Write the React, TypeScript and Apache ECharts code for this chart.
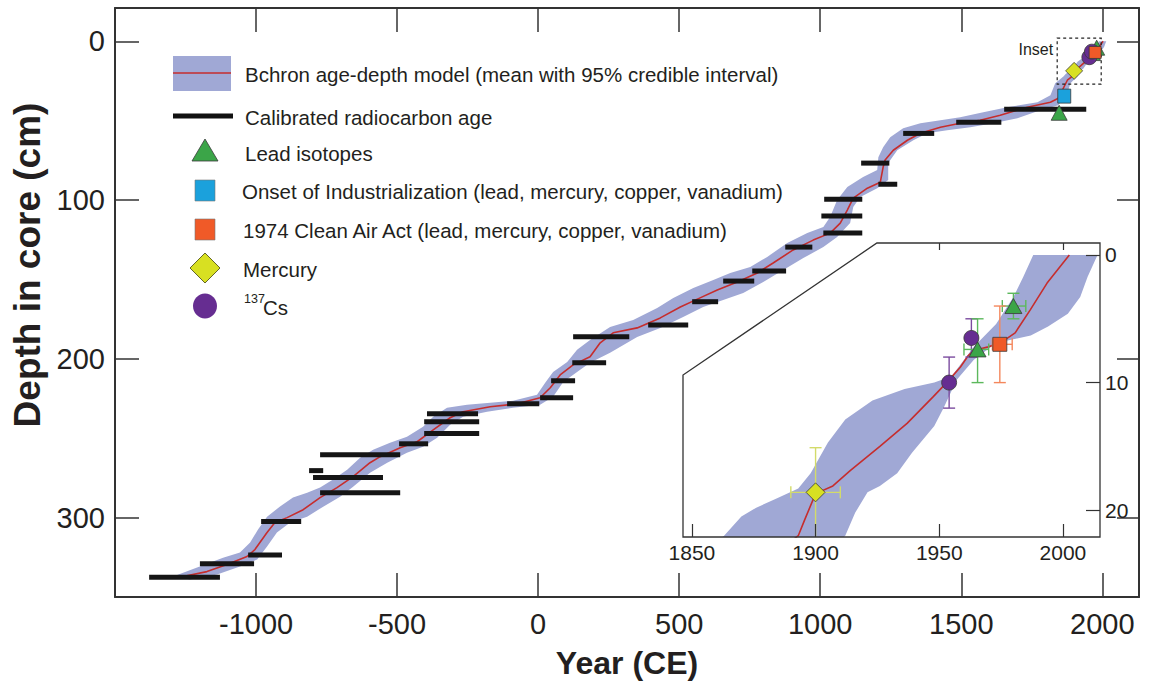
import React, { useEffect, useRef } from "react";
import * as echarts from "echarts";

const FONT = "'Liberation Sans', Arial, Helvetica, sans-serif";
const INK = "#231f20";
const BAND = "#a0a8d5";
const RED = "#c62d2d";

// ---------- axes ----------
const xTickValues = [-1000, -500, 0, 500, 1000, 1500, 2000];
const yTickValues = [0, 100, 200, 300];
const insetXTicks = [1850, 1900, 1950, 2000];
const insetXTopTicks = [1950, 2000];
const insetYTicks = [0, 10, 20];

// ---------- Bchron mean line [year CE, depth cm] ----------
const meanLine: number[][] = [
  [-1259, 337.1], [-1174, 334], [-1103, 329.6], [-1032, 324.5], [-1004, 320.1], [-961, 309.4],
  [-933, 303.1], [-890, 300], [-833, 295], [-773, 287.4], [-713, 281.1], [-656, 274.2],
  [-596, 265.4], [-560, 261.6], [-489, 256], [-429, 252.2], [-372, 244.7], [-312, 237.1],
  [-266, 233.3], [-170, 230.2], [-74, 228.3], [7, 224.5], [43, 218.2], [78, 210.1],
  [124, 203.8], [184, 198.7], [220, 189.9], [266, 183.6], [351, 180.5], [433, 174.2],
  [504, 167.3], [574, 161.6], [635, 156.6], [706, 151.6], [777, 145.9], [833, 139.6],
  [904, 131.4], [975, 125.2], [1035, 120.8], [1071, 114.5], [1096, 106.3], [1117, 98.7],
  [1167, 92.5], [1213, 88.7], [1223, 79.2], [1230, 74.8], [1259, 68.6], [1309, 62.3],
  [1355, 57.9], [1426, 54.1], [1496, 51.6], [1567, 49.7], [1638, 46.5], [1734, 41.5],
  [1816, 38.4], [1844, 35.8], [1876, 24.5], [1893, 22], [1895.5, 20.8], [1900, 18.7],
  [1907, 18.1], [1914, 16.9], [1926, 15], [1937, 13.2], [1947.6, 11.1], [1953, 10],
  [1958.5, 8.8], [1961.7, 7.9], [1963.7, 7.5], [1969.8, 7.2], [1974.6, 6.9], [1980.7, 6.1],
  [1986.8, 4.3], [1993.6, 2.2], [2002.6, 0],
];

// ---------- 95% credible interval edges ----------
const bandOlderEdge: number[][] = [
  [-1294, 337.1], [-1209, 331.4], [-1117, 325.2], [-1057, 322], [-1021, 315.7], [-993, 307.5],
  [-961, 299.4], [-915, 293], [-869, 287.4], [-819, 284.3], [-773, 281.1], [-727, 276],
  [-677, 269.8], [-631, 262.3], [-585, 257.2], [-525, 252.8], [-465, 249], [-408, 242.8],
  [-372, 236.5], [-323, 230.8], [-252, 228.9], [-170, 227.7], [-89, 226.4], [-4, 222.6],
  [25, 215.1], [53, 208.2], [103, 201.9], [138, 194.3], [184, 188.1], [255, 179.9],
  [337, 175.5], [422, 167.9], [479, 161.6], [550, 155.3], [621, 150.3], [681, 145.9],
  [752, 142.1], [812, 135.8], [883, 127], [954, 120.8], [1011, 117], [1035, 110.7],
  [1060, 100], [1096, 91.8], [1152, 85.5], [1202, 81.1], [1206, 73], [1223, 66.7],
  [1248, 60.4], [1294, 54.7], [1355, 51.6], [1426, 49.7], [1496, 47.8], [1578, 44.7],
  [1663, 41.5], [1770, 38.4], [1816, 34], [1833, 26.4], [1863, 22], [1870, 20.5],
  [1876, 19.8], [1884, 19.1], [1893, 18.3], [1898, 17.1], [1905, 14.7], [1912, 12.9],
  [1923, 11.4], [1936, 10.5], [1948, 10], [1955, 9.5], [1964, 7.2], [1973, 5.4],
  [1980, 3.3], [1984, 1.7], [1988, 0],
];
const bandYoungerEdge: number[][] = [
  [-1234, 339], [-1138, 335.8], [-1057, 330.8], [-996, 326.4], [-961, 318.2], [-926, 309.4],
  [-879, 303.1], [-819, 299.4], [-762, 293.1], [-702, 286.8], [-656, 280.5], [-596, 271.7],
  [-535, 265.4], [-465, 259.1], [-408, 255.3], [-358, 249.7], [-312, 241.5], [-266, 236.5],
  [-181, 233.3], [-89, 230.8], [7, 228.9], [53, 223.9], [89, 214.5], [138, 208.2],
  [184, 202.5], [255, 196.2], [351, 186.2], [433, 180.5], [514, 173.6], [585, 167.3],
  [656, 162.9], [727, 158.5], [798, 151.6], [869, 144], [940, 136.5], [1011, 129.6],
  [1060, 123.3], [1106, 114.5], [1117, 104.4], [1142, 98.1], [1202, 92.5], [1241, 87.4],
  [1241, 76.7], [1273, 68.6], [1330, 62.3], [1379, 57.9], [1450, 56], [1532, 54.1],
  [1613, 51.6], [1699, 48.4], [1780, 43.4], [1844, 40.3], [1876, 32.7], [1887, 26.4],
  [1912, 22], [1916, 20.2], [1921, 18.6], [1926, 18.1], [1933, 17.1], [1939, 15.5],
  [1948, 13.4], [1952, 11.9], [1957, 9.8], [1964, 8.2], [1973, 6.9], [1987, 6.3],
  [1994, 5.6], [2002, 4.6], [2007, 3.3], [2010, 1.7], [2014, 0],
];

// ---------- calibrated radiocarbon ages ----------
const c14Depth = [337.5, 329, 323.5, 302.5, 284.3, 274.8, 270.4, 260.4, 253.5, 247, 239.6, 234.6, 228.3, 224.5, 213.8, 202.5, 186, 178.6, 164, 151, 144.7, 129.6, 120.8, 110, 99.4, 90, 76.7, 58, 51, 42.8];
const c14Oldest = [-1379, -1199, -1028, -982, -773, -798, -812, -773, -493, -404, -404, -394, -110, 7, 46, 121, 124, 390, 546, 656, 759, 876, 1011, 1004, 1014, 1206, 1145, 1294, 1482, 1652];
const c14Youngest = [-1128, -1007, -908, -840, -489, -550, -762, -489, -390, -209, -209, -213, 4, 124, 131, 241, 323, 532, 638, 766, 879, 972, 1149, 1149, 1149, 1273, 1245, 1404, 1642, 1943];

// ---------- markers: [year, depth, yearLo, yearHi, depthLo, depthHi] ----------
const leadIsotopes: (number | null)[][] = [
  [1847, 45, null, null, null, null],
  [1965.5, 7.4, 1960, 1970, 5.0, 10.0],
  [1980, 4.0, 1975.5, 1985, 3.0, 5.0],
];
const onsetIndustrial: (number | null)[][] = [[1865, 34.5, null, null, null, null]];
const cleanAirAct: (number | null)[][] = [[1974.5, 7.0, 1971.5, 1979.5, 4.0, 10.0]];
const mercury: (number | null)[][] = [[1900, 18.6, 1890, 1910, 15.1, 23]];
const cs137: (number | null)[][] = [
  [1954, 10.0, null, null, 8.0, 12.0],
  [1963, 6.5, null, null, 5.0, 8.0],
];

// dashed "Inset" box on the main panel [years], [depths]
const insetBoxYears = [1840, 1996];
const insetBoxDepths = [-2, 27];

const GREEN = "#3ba548";
const BLUE = "#1ba1dc";
const ORANGE = "#f05a28";
const YELLOW = "#d8e022";
const PURPLE = "#662d91";

const bandPolygon = [...bandOlderEdge, ...bandYoungerEdge.slice().reverse()];
const anchor = [meanLine[meanLine.length - 1]];

function bandSeries(xi: number, yi: number, z: number) {
  return {
    type: "custom", xAxisIndex: xi, yAxisIndex: yi, z, clip: true, silent: true,
    data: anchor,
    renderItem: (_p: any, api: any) => ({
      type: "polygon",
      shape: { points: bandPolygon.map((p) => api.coord(p)) },
      style: { fill: BAND },
    }),
  };
}
function lineSeries(xi: number, yi: number, z: number) {
  return {
    type: "line", xAxisIndex: xi, yAxisIndex: yi, z, silent: true, clip: true,
    data: meanLine, showSymbol: false, symbol: "none",
    lineStyle: { color: RED, width: 1.6 },
  };
}
function scatter(rows: (number | null)[][], symbol: string, size: any, color: string, xi: number, yi: number, z: number) {
  return {
    type: "scatter", xAxisIndex: xi, yAxisIndex: yi, z, silent: true,
    data: rows.map((r) => [r[0], r[1]]),
    symbol, symbolSize: size,
    itemStyle: { color, borderColor: "#3a3a3a", borderWidth: 0.8, opacity: 1 },
  };
}
function errorSeries(rows: (number | null)[][], color: string, z: number) {
  return {
    type: "custom", xAxisIndex: 2, yAxisIndex: 2, z, clip: true, silent: true,
    data: rows.map((r) => [r[0], r[1]]),
    renderItem: (params: any, api: any) => {
      const r = rows[params.dataIndex];
      const st = { stroke: color, lineWidth: 1.4, fill: "none" };
      const cap = 6;
      const children: any[] = [];
      if (r[2] != null && r[3] != null) {
        const a = api.coord([r[2], r[1]]);
        const b = api.coord([r[3], r[1]]);
        children.push({ type: "line", shape: { x1: a[0], y1: a[1], x2: b[0], y2: b[1] }, style: st });
        children.push({ type: "line", shape: { x1: a[0], y1: a[1] - cap, x2: a[0], y2: a[1] + cap }, style: st });
        children.push({ type: "line", shape: { x1: b[0], y1: b[1] - cap, x2: b[0], y2: b[1] + cap }, style: st });
      }
      if (r[4] != null && r[5] != null) {
        const a = api.coord([r[0], r[4]]);
        const b = api.coord([r[0], r[5]]);
        children.push({ type: "line", shape: { x1: a[0], y1: a[1], x2: b[0], y2: b[1] }, style: st });
        children.push({ type: "line", shape: { x1: a[0] - cap, y1: a[1], x2: a[0] + cap, y2: a[1] }, style: st });
        children.push({ type: "line", shape: { x1: b[0] - cap, y1: b[1], x2: b[0] + cap, y2: b[1] }, style: st });
      }
      return { type: "group", children };
    },
  };
}

const c14Rows = c14Depth.map((d, i) => [c14Oldest[i], c14Youngest[i], d]);

function insetShape(fill: string, stroke: string, z: number) {
  return {
    type: "custom", xAxisIndex: 2, yAxisIndex: 2, z, silent: true, clip: false,
    data: [[1950, 10]],
    renderItem: (params: any) => {
      const c = params.coordSys;
      const pts = [
        [c.x, c.y + c.height], [c.x + c.width, c.y + c.height], [c.x + c.width, c.y],
        [c.x + 0.465 * c.width, c.y], [c.x, c.y + 0.449 * c.height],
      ];
      return { type: "polygon", shape: { points: pts }, style: { fill, stroke, lineWidth: 1.3 } };
    },
  };
}

const txt = (text: string, x: number, y: number, size: number, extra: any = {}) => ({
  type: "text", x, y, z: 20,
  style: {
    text, font: `${size}px ${FONT}`, fill: INK,
    align: "left", textAlign: "left", verticalAlign: "middle", textVerticalAlign: "middle", ...extra,
  },
});

const legendElements: any[] = [
  { type: "rect", z: 20, shape: { x: 173, y: 56, width: 58, height: 35 }, style: { fill: BAND } },
  { type: "line", z: 21, shape: { x1: 173, y1: 73, x2: 231, y2: 73 }, style: { stroke: RED, lineWidth: 1.6 } },
  txt("Bchron age-depth model (mean with 95% credible interval)", 245, 74, 20.5),
  { type: "line", z: 20, shape: { x1: 173, y1: 116, x2: 233, y2: 116 }, style: { stroke: "#111", lineWidth: 5 } },
  txt("Calibrated radiocarbon age", 245, 117, 20.5),
  { type: "polygon", z: 20, shape: { points: [[205, 139], [218, 161], [192, 161]] }, style: { fill: GREEN, stroke: "#3a3a3a", lineWidth: 0.8 } },
  txt("Lead isotopes", 245, 153, 20.5),
  { type: "rect", z: 20, shape: { x: 195, y: 180, width: 20, height: 21 }, style: { fill: BLUE, stroke: "#777", lineWidth: 0.6 } },
  txt("Onset of Industrialization (lead, mercury, copper, vanadium)", 242, 191, 20.5),
  { type: "rect", z: 20, shape: { x: 195, y: 219, width: 20, height: 21 }, style: { fill: ORANGE, stroke: "#777", lineWidth: 0.6 } },
  txt("1974 Clean Air Act (lead, mercury, copper, vanadium)", 243, 230, 20.5),
  { type: "polygon", z: 20, shape: { points: [[205, 253], [220, 268], [205, 283], [190, 268]] }, style: { fill: YELLOW, stroke: "#55561a", lineWidth: 0.9 } },
  txt("Mercury", 243, 269, 20.5),
  { type: "ellipse", z: 20, shape: { cx: 205, cy: 306, rx: 12, ry: 12.5 }, style: { fill: PURPLE } },
  txt("137", 244, 299, 12.5),
  txt("Cs", 263, 307, 20.5),
];

const option: any = {
  animation: false,
  backgroundColor: "#fff",
  textStyle: { fontFamily: FONT },
  grid: [
    { left: 115, top: 8, width: 1024, height: 589 },
    { left: 683, top: 243, width: 417, height: 294 },
  ],
  xAxis: [
    {
      gridIndex: 0, type: "value", min: -1500, max: 2130, position: "bottom",
      axisLine: { show: true, onZero: false, lineStyle: { color: "#333", width: 2 } },
      axisTick: { show: true, inside: true, length: 24, customValues: xTickValues, lineStyle: { color: "#333", width: 1.5 } },
      axisLabel: { show: true, customValues: xTickValues, formatter: (v: number) => String(v), fontSize: 29, color: INK, margin: 12, fontFamily: FONT },
      splitLine: { show: false },
      name: "Year (CE)", nameLocation: "middle", nameGap: 50,
      nameTextStyle: { fontSize: 32, fontWeight: "bold", color: INK, fontFamily: FONT },
    },
    {
      gridIndex: 0, type: "value", min: -1500, max: 2130, position: "top",
      axisLine: { show: true, onZero: false, lineStyle: { color: "#333", width: 2 } },
      axisTick: { show: true, inside: true, length: 24, customValues: xTickValues, lineStyle: { color: "#333", width: 1.5 } },
      axisLabel: { show: false }, splitLine: { show: false },
    },
    {
      gridIndex: 1, type: "value", min: 1846.4, max: 2015, position: "bottom", z: 12,
      axisLine: { show: false, onZero: false },
      axisTick: { show: true, inside: true, length: 13, customValues: insetXTicks, lineStyle: { color: "#333", width: 1.2 } },
      axisLabel: { show: true, customValues: insetXTicks, formatter: (v: number) => String(v), fontSize: 21, color: INK, margin: 5, fontFamily: FONT },
      splitLine: { show: false },
    },
    {
      gridIndex: 1, type: "value", min: 1846.4, max: 2015, position: "top", z: 12,
      axisLine: { show: false, onZero: false },
      axisTick: { show: true, inside: true, length: 7, customValues: insetXTopTicks, lineStyle: { color: "#333", width: 1.2 } },
      axisLabel: { show: false }, splitLine: { show: false },
    },
  ],
  yAxis: [
    {
      gridIndex: 0, type: "value", inverse: true, min: -21, max: 350, position: "left",
      axisLine: { show: true, onZero: false, lineStyle: { color: "#333", width: 2 } },
      axisTick: { show: true, inside: true, length: 24, customValues: yTickValues, lineStyle: { color: "#333", width: 1.5 } },
      axisLabel: { show: true, customValues: yTickValues, fontSize: 29, color: INK, margin: 10, fontFamily: FONT },
      splitLine: { show: false },
    },
    {
      gridIndex: 0, type: "value", inverse: true, min: -21, max: 350, position: "right",
      axisLine: { show: true, onZero: false, lineStyle: { color: "#333", width: 2 } },
      axisTick: { show: true, inside: true, length: 22, customValues: yTickValues, lineStyle: { color: "#333", width: 1.5 } },
      axisLabel: { show: false }, splitLine: { show: false },
    },
    {
      gridIndex: 1, type: "value", inverse: true, min: -0.94, max: 22.1, position: "right", z: 12,
      axisLine: { show: false, onZero: false },
      axisTick: { show: true, inside: true, length: 14, customValues: insetYTicks, lineStyle: { color: "#333", width: 1.2 } },
      axisLabel: { show: true, customValues: insetYTicks, fontSize: 21, color: INK, margin: 5, fontFamily: FONT },
      splitLine: { show: false },
    },
  ],
  graphic: {
    elements: [
      ...legendElements,
      {
        type: "text", x: 27, y: 265, rotation: Math.PI / 2, z: 20,
        style: {
          text: "Depth in core (cm)", font: `bold 37px ${FONT}`, fill: INK,
          align: "center", textAlign: "center", verticalAlign: "middle", textVerticalAlign: "middle",
        },
      },
    ],
  },
  series: [
    // main panel
    bandSeries(0, 0, 2),
    lineSeries(0, 0, 3),
    {
      type: "custom", xAxisIndex: 0, yAxisIndex: 0, z: 4, silent: true, clip: true,
      data: c14Rows, encode: { x: [0, 1], y: 2 },
      renderItem: (_p: any, api: any) => {
        const a = api.coord([api.value(0), api.value(2)]);
        const b = api.coord([api.value(1), api.value(2)]);
        return { type: "rect", shape: { x: a[0], y: a[1] - 2.5, width: b[0] - a[0], height: 5 }, style: { fill: "#151515" } };
      },
    },
    {
      type: "custom", xAxisIndex: 0, yAxisIndex: 0, z: 4, silent: true, clip: false,
      data: [[insetBoxYears[0], insetBoxDepths[0]]],
      renderItem: (_p: any, api: any) => {
        const a = api.coord([insetBoxYears[0], insetBoxDepths[0]]);
        const b = api.coord([insetBoxYears[1], insetBoxDepths[1]]);
        return {
          type: "group",
          children: [
            { type: "rect", shape: { x: a[0], y: a[1], width: b[0] - a[0], height: b[1] - a[1] }, style: { fill: "none", stroke: "#222", lineWidth: 1.2, lineDash: [3, 3] } },
            { type: "text", x: a[0] - 4, y: a[1] + 11, style: { text: "Inset", font: `16px ${FONT}`, fill: INK, align: "right", verticalAlign: "middle", textAlign: "right", textVerticalAlign: "middle" } },
          ],
        };
      },
    },
    scatter(leadIsotopes, "triangle", [16, 15], GREEN, 0, 0, 5),
    scatter(onsetIndustrial, "rect", [13, 14], BLUE, 0, 0, 5),
    scatter(cleanAirAct, "rect", [12, 12], ORANGE, 0, 0, 6),
    scatter(mercury, "diamond", [17, 17], YELLOW, 0, 0, 5),
    scatter(cs137, "circle", 15, PURPLE, 0, 0, 5),
    // inset panel
    insetShape("#ffffff", "none", 6),
    bandSeries(2, 2, 7),
    lineSeries(2, 2, 8),
    errorSeries(mercury, "#d3db6a", 9),
    errorSeries(cs137, "#7b4b9f", 9),
    errorSeries(leadIsotopes, "#5cb85c", 9),
    errorSeries(cleanAirAct, "#f4875c", 9),
    scatter(mercury, "diamond", [19, 19], YELLOW, 2, 2, 10),
    scatter(cs137, "circle", 15, PURPLE, 2, 2, 10),
    scatter(leadIsotopes, "triangle", [17, 15], GREEN, 2, 2, 10),
    scatter(cleanAirAct, "rect", [14, 14], ORANGE, 2, 2, 10),
    insetShape("none", "#333", 11),
  ],
};

export default function App() {
  const ref = useRef<HTMLDivElement>(null);
  useEffect(() => {
    const chart = echarts.init(ref.current!, null, { renderer: "svg" });
    chart.setOption(option);
    return () => chart.dispose();
  }, []);
  return (
    <div
      ref={ref}
      style={{ position: "fixed", left: 0, top: 0, width: 1149, height: 691, background: "#fff" }}
    />
  );
}
